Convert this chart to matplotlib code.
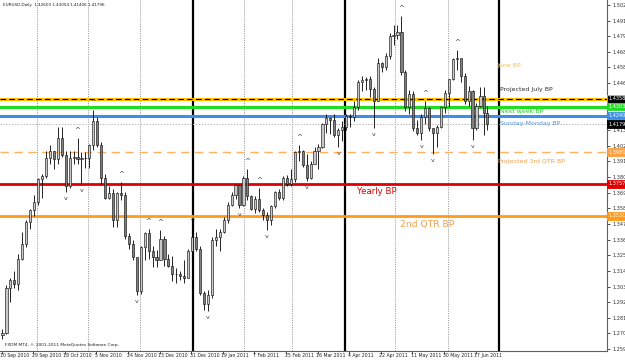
import numpy as np
import pandas as pd
import matplotlib
matplotlib.use("Agg")
import matplotlib.pyplot as plt
import matplotlib.transforms as mtransforms

# ---------------- data ----------------
start_date = "2010-09-10"
first_open = 1.2690
# two-day bars: (Fri+Sun), (Mon+Tue), (Wed+Thu) for every week, then the last day 24 Jun 2011
close = [
    1.2705, 1.3020, 1.3080, 1.3050, 1.3230, 1.3330, 1.3490, 1.3570, 1.3630,
    1.3790, 1.3810, 1.3940, 1.3990, 1.3930, 1.4080, 1.3960, 1.3740, 1.3940,
    1.3950, 1.3930, 1.3940, 1.3940, 1.4030, 1.4200, 1.4030, 1.3800, 1.3660,
    1.3690, 1.3500, 1.3690, 1.3680, 1.3390, 1.3330, 1.3240, 1.3000, 1.3310,
    1.3410, 1.3280, 1.3240, 1.3220, 1.3370, 1.3230, 1.3180, 1.3120, 1.3120,
    1.3110, 1.3090, 1.3280, 1.3380, 1.3300, 1.2990, 1.2910, 1.2970, 1.3360,
    1.3380, 1.3420, 1.3500, 1.3610, 1.3680, 1.3750, 1.3610, 1.3800, 1.3670,
    1.3580, 1.3650, 1.3570, 1.3540, 1.3500, 1.3600, 1.3700, 1.3660, 1.3800,
    1.3760, 1.3790, 1.3980, 1.3990, 1.3890, 1.3800, 1.3900, 1.3990, 1.4020,
    1.4180, 1.4220, 1.4210, 1.4100, 1.4140, 1.4160, 1.4240, 1.4230, 1.4300,
    1.4480, 1.4490, 1.4500, 1.4430, 1.4340, 1.4610, 1.4580, 1.4660, 1.4800,
    1.4810, 1.4830, 1.4550, 1.4300, 1.4390, 1.4150, 1.4120, 1.4230, 1.4290,
    1.4150, 1.4120, 1.4160, 1.4300, 1.4400, 1.4500, 1.4640, 1.4650, 1.4520,
    1.4340, 1.4410, 1.4150, 1.4310, 1.4380, 1.4260, 1.41796]
high = [
    1.2730, 1.3040, 1.3090, 1.3140, 1.3260, 1.3420, 1.3500, 1.3580, 1.3680,
    1.3800, 1.3830, 1.3990, 1.4030, 1.3990, 1.4160, 1.4160, 1.3990, 1.3990,
    1.3990, 1.4080, 1.3980, 1.3980, 1.4040, 1.4282, 1.4230, 1.4050, 1.3830,
    1.3740, 1.3720, 1.3700, 1.3770, 1.3700, 1.3410, 1.3360, 1.3230, 1.3320,
    1.3420, 1.3440, 1.3320, 1.3290, 1.3430, 1.3390, 1.3260, 1.3250, 1.3160,
    1.3140, 1.3220, 1.3300, 1.3440, 1.3420, 1.3320, 1.3000, 1.3010, 1.3380,
    1.3440, 1.3440, 1.3520, 1.3630, 1.3700, 1.3760, 1.3760, 1.3810, 1.3860,
    1.3680, 1.3670, 1.3730, 1.3590, 1.3560, 1.3610, 1.3710, 1.3720, 1.3810,
    1.3820, 1.3860, 1.3990, 1.4030, 1.4000, 1.3970, 1.3920, 1.4020, 1.4040,
    1.4190, 1.4250, 1.4230, 1.4250, 1.4150, 1.4200, 1.4250, 1.4250, 1.4340,
    1.4490, 1.4520, 1.4510, 1.4520, 1.4440, 1.4650, 1.4620, 1.4680, 1.4820,
    1.4880, 1.4880, 1.4940, 1.4560, 1.4420, 1.4410, 1.4210, 1.4250, 1.4340,
    1.4300, 1.4150, 1.4170, 1.4310, 1.4420, 1.4500, 1.4650, 1.4700, 1.4640,
    1.4540, 1.4450, 1.4420, 1.4330, 1.4440, 1.4440, 1.43054]
low = [
    1.2660, 1.2700, 1.2920, 1.3020, 1.3010, 1.3220, 1.3310, 1.3440, 1.3530,
    1.3610, 1.3660, 1.3800, 1.3900, 1.3860, 1.3900, 1.3950, 1.3700, 1.3730,
    1.3900, 1.3900, 1.3760, 1.3870, 1.3870, 1.4000, 1.4020, 1.3760, 1.3650,
    1.3650, 1.3450, 1.3450, 1.3640, 1.3370, 1.3300, 1.3220, 1.2969, 1.2980,
    1.3220, 1.3230, 1.3170, 1.3170, 1.3220, 1.3180, 1.3170, 1.3070, 1.3060,
    1.3080, 1.3060, 1.3090, 1.3250, 1.3280, 1.2970, 1.2870, 1.2860, 1.2950,
    1.3320, 1.3280, 1.3410, 1.3480, 1.3600, 1.3650, 1.3590, 1.3600, 1.3640,
    1.3570, 1.3550, 1.3560, 1.3500, 1.3430, 1.3470, 1.3590, 1.3640, 1.3640,
    1.3740, 1.3740, 1.3770, 1.3920, 1.3880, 1.3780, 1.3790, 1.3900, 1.3860,
    1.4010, 1.4120, 1.4110, 1.4090, 1.4020, 1.4060, 1.4140, 1.4160, 1.4200,
    1.4280, 1.4410, 1.4420, 1.4370, 1.4150, 1.4340, 1.4550, 1.4560, 1.4640,
    1.4740, 1.4780, 1.4530, 1.4270, 1.4250, 1.4130, 1.4100, 1.4070, 1.4180,
    1.4130, 1.3968, 1.4020, 1.4150, 1.4260, 1.4300, 1.4490, 1.4560, 1.4480,
    1.4320, 1.4310, 1.4070, 1.4140, 1.4300, 1.4100, 1.41406]
last_open = 1.42603

date_labels = ["10 Sep 2010", "29 Sep 2010", "18 Oct 2010", "5 Nov 2010", "24 Nov 2010",
               "13 Dec 2010", "31 Dec 2010", "19 Jan 2011", "7 Feb 2011", "25 Feb 2011",
               "16 Mar 2011", "4 Apr 2011", "22 Apr 2011", "11 May 2011", "30 May 2011",
               "17 Jun 2011"]
month_sep_dates = ["2010-10-01", "2010-11-01", "2010-12-01", "2011-02-01", "2011-03-01",
                   "2011-05-01", "2011-06-01"]
quarter_sep_dates = ["2011-01-02", "2011-04-01", "2011-07-01"]

price_ticks = [1.5021, 1.4910, 1.4799, 1.4688, 1.4580, 1.4469, 1.4358, 1.4247, 1.4139,
               1.4028, 1.3917, 1.3806, 1.3695, 1.3584, 1.3473, 1.3362, 1.3254, 1.3143,
               1.3032, 1.2921, 1.2813, 1.2702, 1.2591]

level_names = ["June BP", "Projected July BP", "Next week BP", "Sunday-Monday BP",
               "Projected 3rd QTR BP", "Yearly BP", "2nd QTR BP"]
level_values = [1.4358, 1.4357, 1.4303, 1.4240, 1.3981, 1.3757, 1.3531]
header = "EURUSD,Daily  1.42603 1.43054 1.41406 1.41796"

# ---------------- helpers ----------------
def bar_index(date_str):
    """Position of a date on the MT4 axis: one bar per day, Saturdays skipped."""
    d0 = pd.Timestamp(start_date)
    days = pd.date_range(d0, pd.Timestamp(date_str), freq="D")
    return int((days.dayofweek != 5).sum()) - 1

n = len(close)
x = np.array([2 * k + 0.5 for k in range(n - 1)] + [2 * (n - 1)], dtype=float)
opens = [first_open] + close[:-2] + [last_open]

W, H = 625, 361
fig = plt.figure(figsize=(W / 100, H / 100), dpi=100)
fig.patch.set_facecolor("white")
ax_bottom_px = 351
ax_right_px = 607
ax = fig.add_axes([0, 1 - ax_bottom_px / H, ax_right_px / W, ax_bottom_px / H])
ax.set_facecolor("white")

px_per_bar = 1.975
x0_px = 1.5
ax.set_xlim((0 - x0_px) / px_per_bar, (ax_right_px - x0_px) / px_per_bar)
ppx = (1.5021 - 1.2591) / 344.0
ax.set_ylim(1.5021 - (ax_bottom_px - 5) * ppx, 1.5021 + 5 * ppx)

# separators
for d in month_sep_dates:
    ax.axvline(bar_index(d), color="#a0a0a0", lw=0.7, ls=(0, (1.2, 1.2)), zorder=1)
for d in quarter_sep_dates:
    ax.axvline(bar_index(d), color="black", lw=1.6, zorder=1)

# level lines
ax.axhline(close[-1], color="#b8b8b8", lw=0.7, ls=(0, (1.5, 1.5)), zorder=1)
ax.axhline(level_values[0], color="#ffc000", lw=2.2, zorder=2)
ax.axhline(level_values[1], color="black", lw=0.8, ls=(0, (5, 3)), zorder=2)
ax.axhline(level_values[2], color="#22dd22", lw=2.2, zorder=2)
ax.axhline(level_values[3], color="#3b8fe8", lw=2.2, zorder=2)
ax.axhline(level_values[4], color="#ffb060", lw=1.0, ls=(0, (6, 4)), zorder=2)
ax.axhline(level_values[5], color="#e00000", lw=2.0, zorder=2)
ax.axhline(level_values[6], color="#ff9a1a", lw=2.0, zorder=2)

# candles
o = np.array(opens); c = np.array(close); h = np.array(high); l = np.array(low)
ax.vlines(x, l, h, color="black", lw=0.6, zorder=3)
bodies_lo = np.minimum(o, c)
bodies_h = np.maximum(np.abs(c - o), 0.0003)
up = c >= o
ax.bar(x[up], bodies_h[up], bottom=bodies_lo[up], width=1.1, color="#c8c8c8",
       edgecolor="black", lw=0.4, zorder=4)
ax.bar(x[~up], bodies_h[~up], bottom=bodies_lo[~up], width=1.1, color="#808080",
       edgecolor="black", lw=0.4, zorder=4)

# fractals
for k in range(2, n - 2):
    if h[k] > max(h[k - 2], h[k - 1], h[k + 1], h[k + 2]):
        ax.text(x[k], h[k] + 5 * ppx, "^", ha="center", va="bottom", fontsize=5,
                color="#404040", zorder=5)
    if l[k] < min(l[k - 2], l[k - 1], l[k + 1], l[k + 2]):
        ax.text(x[k], l[k] - 4 * ppx, "v", ha="center", va="top", fontsize=4.5,
                color="#404040", zorder=5)

# axes styling
for s in ["left", "top"]:
    ax.spines[s].set_visible(False)
ax.spines["right"].set_color("#606060")
ax.spines["bottom"].set_color("#606060")
ax.spines["right"].set_linewidth(0.8)
ax.spines["bottom"].set_linewidth(0.8)
ax.yaxis.tick_right()
ax.set_yticks(price_ticks)
ax.set_yticklabels(["%.5f" % v for v in price_ticks])
ax.tick_params(axis="y", direction="out", length=2.5, width=0.6, colors="#303030",
               labelsize=3.6, pad=1.5)
xt = [16 * i for i in range(len(date_labels))]
ax.set_xticks(xt)
ax.set_xticklabels([])
ax.tick_params(axis="x", direction="out", length=2.5, width=0.6, colors="#303030")
xtr = mtransforms.blended_transform_factory(ax.transData, ax.transAxes)
for xi, lab in zip(xt, date_labels):
    ax.text(xi - 0.7, -0.006, lab, transform=xtr,
            ha="left", va="top", fontsize=3.3, color="#202020", clip_on=False)

# right axis price boxes
box_specs = [
    (level_values[0], "black", "white", "#ffc000"),
    (level_values[2], "#22dd22", "white", "#22dd22"),
    (level_values[3], "#3b8fe8", "white", "#3b8fe8"),
    (close[-1], "black", "white", "black"),
    (level_values[4], "#ffa040", "white", "#ffa040"),
    (level_values[5], "#e00000", "white", "#e00000"),
    (level_values[6], "#ff9a1a", "white", "#ff9a1a"),
]
tr = mtransforms.blended_transform_factory(ax.transAxes, ax.transData)
for val, bg, fg, ec in box_specs:
    ax.text(1.0 + 1.5 / ax_right_px, val, "%.5f" % val, transform=tr, ha="left", va="center",
            fontsize=3.6, color=fg, clip_on=False, zorder=10,
            bbox=dict(boxstyle="square,pad=0.25", fc=bg, ec=ec, lw=0.6))

# annotations (text objects)
def px2data(px, py):
    return (px - x0_px) / px_per_bar, 1.5021 - (py - 5) * ppx

txt_specs = [
    ("June BP", 497, 66, "#f5c040", 4.5),
    ("Projected July BP", 500, 89, "#303030", 4.5),
    ("Next week BP", 500, 111, "#22cc22", 4.5),
    ("Sunday-Monday BP", 500, 124, "#4f95e0", 4.5),
    ("Projected 3rd QTR BP", 498, 161, "#f0a050", 4.5),
    ("Yearly BP", 357, 191, "#e00000", 6.2),
    ("2nd QTR BP", 400, 225, "#f0a050", 6.6),
]
for t, px, py, col, fs in txt_specs:
    xd, yd = px2data(px, py)
    ax.text(xd, yd, t, color=col, fontsize=fs, ha="left", va="center", zorder=6)

fig.text(3 / W, 1 - 5 / H, header, ha="left", va="center", fontsize=3.0, color="#202020")
fig.text(5 / W, 1 - 345 / H, "FXDM MT4, \u00a9 2001-2011 MetaQuotes Software Corp.",
         ha="left", va="center", fontsize=3.1, color="#202020")

fig.savefig("out.png", dpi=100, facecolor="white")
